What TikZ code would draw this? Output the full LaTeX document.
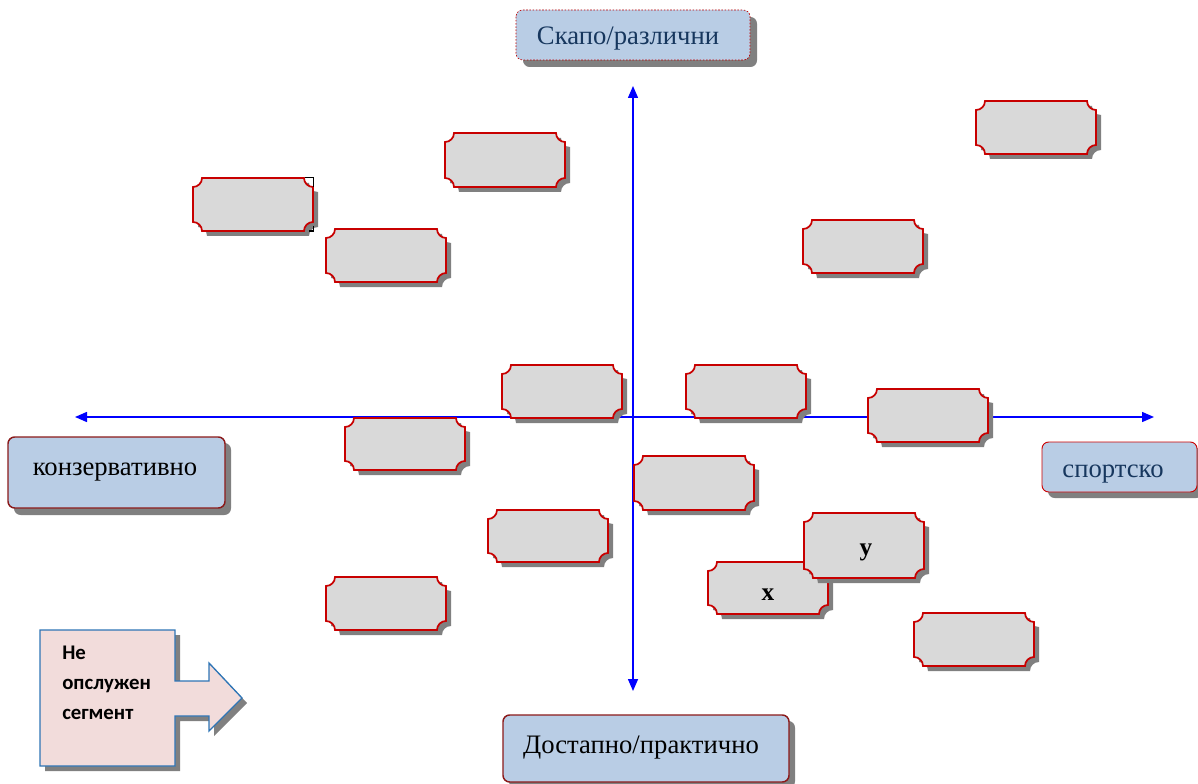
\documentclass[tikz,border=0pt]{standalone}
\usepackage{fontspec}
\setmainfont{Liberation Serif}
\newfontfamily\calib{Carlito}
\usetikzlibrary{arrows.meta}

\definecolor{plaquefill}{HTML}{D9D9D9}
\definecolor{plaqueedge}{HTML}{C80000}
\definecolor{shadowgray}{HTML}{808080}
\definecolor{labelfill}{HTML}{B9CDE5}
\definecolor{darkedge}{HTML}{8B1A1A}
\definecolor{navytext}{HTML}{17375E}
\definecolor{calloutfill}{HTML}{F2DCDB}
\definecolor{calloutedge}{HTML}{2E75B6}
\definecolor{axisblue}{HTML}{0000FF}

% plaque outline with concave corners: x1,y1,x2,y2
\newcommand\plaquepath[4]{(#1+9,#2) -- (#3-9,#2) arc[start angle=180,end angle=90,radius=9]
  -- (#3,#4-9) arc[start angle=270,end angle=180,radius=9]
  -- (#1+9,#4) arc[start angle=360,end angle=270,radius=9]
  -- (#1,#2+9) arc[start angle=90,end angle=0,radius=9] -- cycle}

% name, x1, y1, x2, y2
\newcommand\plaque[5]{%
  \fill[shadowgray,shift={(5,5)}] \plaquepath{#2}{#3}{#4}{#5};
  \draw[plaquestyle] \plaquepath{#2}{#3}{#4}{#5};
  \coordinate (#1) at ({(#2+#4)/2},{(#3+#5)/2});}

\tikzset{
  plaquestyle/.style={fill=plaquefill,draw=plaqueedge,line width=1.3pt},
  plaquetext/.style={font=\bfseries\fontsize{19}{22}\selectfont,inner sep=0pt,anchor=base},
  axis/.style={axisblue,line width=1.1pt,{Triangle[length=9pt,width=7.5pt]}-{Triangle[length=9pt,width=7.5pt]}},
  labelbox/.style={fill=labelfill,rounded corners=5pt},
  labelshadow/.style={fill=shadowgray,rounded corners=5pt},
  labeltext/.style={font=\fontsize{20}{24}\selectfont,inner sep=0pt,anchor=base},
}

\begin{document}
\begin{tikzpicture}[x=0.75pt,y=-0.75pt]
\useasboundingbox (0,0) rectangle (1198,784);

% axes
\coordinate (ytop) at (633,86);
\coordinate (ybot) at (633,691);
\coordinate (xleft) at (75,417);
\coordinate (xright) at (1154,417);
\draw[axis] (ybot) -- (ytop);
\draw[axis] (xleft) -- (xright);

% positioning plaques
\plaque{p1}{445}{133}{565}{187}
\plaque{p2}{193}{178}{313}{231}
\draw[black,line width=0.9pt] (305,177.5) -- (313.5,177.5) -- (313.5,187);
\draw[black,line width=0.9pt] (313.5,226) -- (313.5,231) -- (309,231);
\plaque{p3}{326}{229}{446}{282}
\plaque{p4}{976}{101}{1096}{154}
\plaque{p5}{803}{220}{923}{273}
\plaque{p6}{502}{365}{622}{418}
\plaque{p7}{686}{365}{806}{418}
\plaque{p8}{868}{389}{988}{442}
\plaque{p9}{345}{418}{465}{470}
\plaque{p10}{634}{456}{754}{510}
\plaque{p11}{488}{510}{608}{562}
\plaque{p12}{326}{577}{446}{630}
\plaque{px}{708}{562}{828}{614}
\node[plaquetext] (xlabel) at (768,600) {x};
\plaque{py}{804}{513}{924}{578}
\node[plaquetext] (ylabel) at (866,555) {y};
\plaque{p15}{914}{613}{1034}{666}

% axis end labels
\fill[labelshadow] (523,17) rectangle (757,67);
\draw[labelbox,draw=red!75!black,dash pattern=on 1.2pt off 1.2pt,line width=0.5pt] (516,10) rectangle (750,60);
\node[labeltext,text=navytext] (top) at (628,45) {Скапо/различни};

\fill[labelshadow] (14,443) rectangle (231,515);
\draw[labelbox,draw=darkedge,line width=1.1pt] (8,437) rectangle (225,508);
\node[labeltext] (left) at (115,475) {конзервативно};

\fill[labelshadow] (1048,448) rectangle (1203,498);
\draw[labelbox,draw=red!80!black,line width=0.7pt] (1042,442) rectangle (1197,492);
\node[labeltext,text=navytext] (right) at (1113,477) {спортско};

\fill[labelshadow] (509,721) rectangle (795,788);
\draw[labelbox,draw=darkedge,line width=1.1pt] (503,715) rectangle (789,782);
\node[labeltext] (bottom) at (641,753) {Достапно/практично};

% unserved segment callout
\fill[shadowgray,shift={(5,5)}] (40,630) -- (175,630) -- (175,681) -- (209,681) -- (209,663) -- (242,698)
  -- (209,731) -- (209,716) -- (175,716) -- (175,766) -- (40,766) -- cycle;
\draw[fill=calloutfill,draw=calloutedge,line width=1pt] (40,630) -- (175,630) -- (175,681) -- (209,681) -- (209,663) -- (242,698)
  -- (209,731) -- (209,716) -- (175,716) -- (175,766) -- (40,766) -- cycle;
\node[anchor=north west,align=left,inner sep=0pt,font=\calib\bfseries\fontsize{15.6}{22.5}\selectfont] (gap) at (62,646) {Не\\опслужен\\сегмент};
\end{tikzpicture}
\end{document}
